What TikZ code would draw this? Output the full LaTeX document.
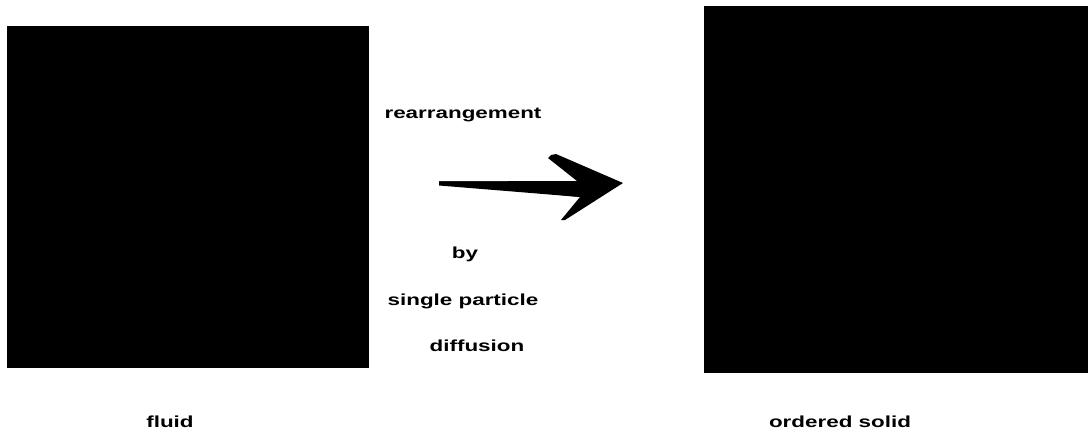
\documentclass[tikz,border=0pt]{standalone}
\usepackage{fontspec}
\setmainfont{Liberation Sans}[FakeStretch=1.4]
\begin{document}
\begin{tikzpicture}[x=1pt,y=-1pt,
  panel/.style={fill=black,draw=none,inner sep=0pt,outer sep=0pt},
  lbl/.style={font=\fontsize{16}{18}\selectfont\bfseries,anchor=base,inner sep=0pt}]
\useasboundingbox (0,0) rectangle (1088,436);
% panels
\path[panel] (7,26) rectangle (369,368);
\node[inner sep=0pt] (fluidbox) at (188,197) {};
\path[panel] (704,6) rectangle (1088,373);
\node[inner sep=0pt] (solidbox) at (896,190) {};
% arrow
\coordinate (arrowstart) at (439,183);
\coordinate (arrowend) at (623,183);
\fill[black] (arrowstart) ++(0,-1.5) -- (577,181) -- (548,158) -- (551,155) -- (556,154)
  -- (arrowend) -- (565,220) -- (561,220) -- (580,197) -- (arrowstart) ++(0,2.5) -- cycle;
\fill[black] (439,181.5) -- (577,181) -- (580,197) -- (439,185.5) -- cycle;
% labels
\node[lbl] (rearr) at (463,118) {rearrangement};
\node[lbl] (by) at (465,258) {by};
\node[lbl] (single) at (463,305) {single particle};
\node[lbl] (diff) at (477,351) {diffusion};
\node[lbl] (fluid) at (170,427) {fluid};
\node[lbl] (solid) at (840,427) {ordered solid};
\end{tikzpicture}
\end{document}
